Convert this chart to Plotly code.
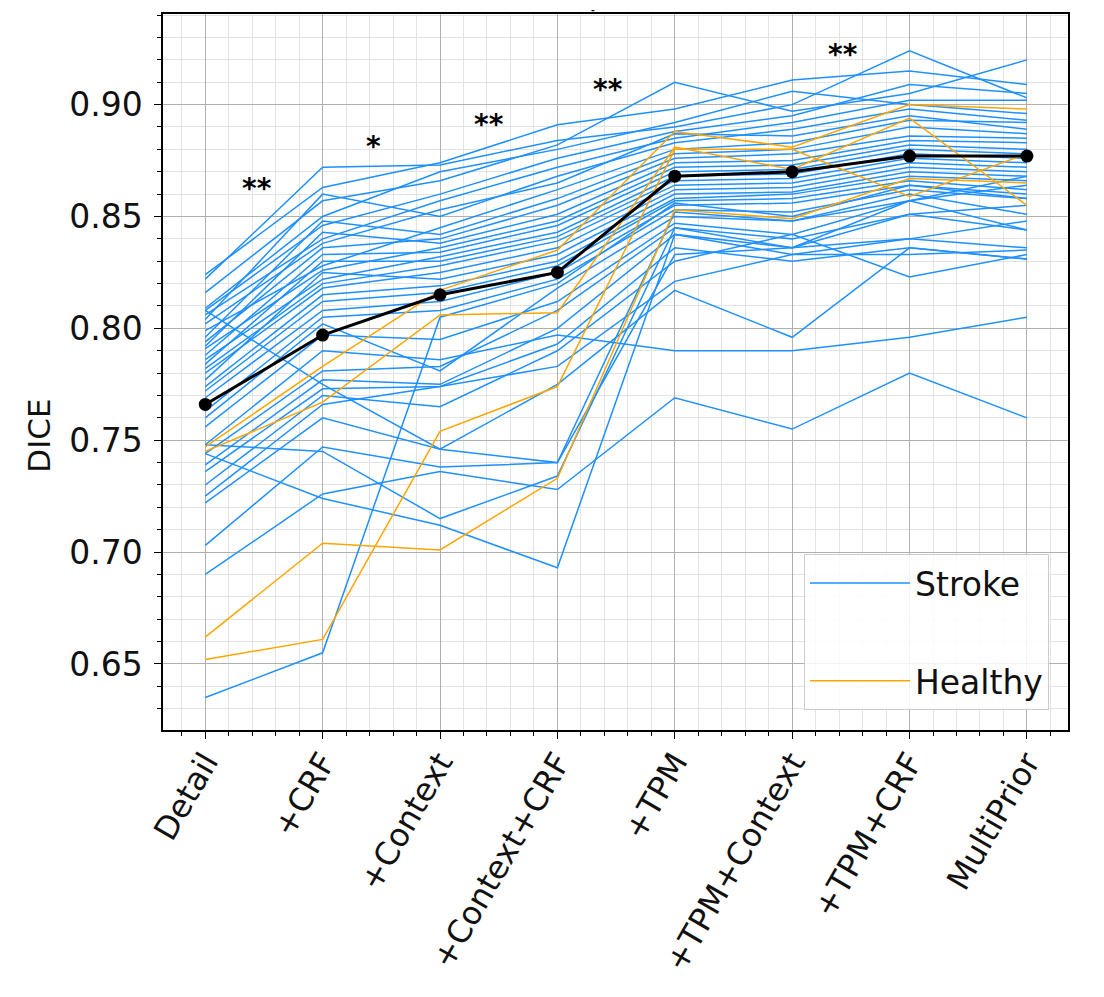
import plotly.graph_objects as go

categories = ["Detail", "+CRF", "+Context", "+Context+CRF", "+TPM", "+TPM+Context", "+TPM+CRF", "MultiPrior"]

stroke = [
    [0.824, 0.863, 0.874, 0.891, 0.898, 0.911, 0.915, 0.909],
    [0.822, 0.872, 0.873, 0.884, 0.890, 0.900, 0.924, 0.903],
    [0.816, 0.857, 0.866, 0.882, 0.910, 0.897, 0.905, 0.920],
    [0.809, 0.850, 0.870, 0.880, 0.892, 0.906, 0.900, 0.896],
    [0.808, 0.846, 0.860, 0.876, 0.888, 0.895, 0.909, 0.905],
    [0.806, 0.840, 0.857, 0.872, 0.885, 0.892, 0.902, 0.902],
    [0.804, 0.860, 0.850, 0.868, 0.883, 0.889, 0.898, 0.893],
    [0.802, 0.838, 0.853, 0.865, 0.887, 0.886, 0.895, 0.889],
    [0.799, 0.828, 0.845, 0.862, 0.880, 0.883, 0.893, 0.892],
    [0.796, 0.848, 0.842, 0.858, 0.878, 0.880, 0.890, 0.887],
    [0.794, 0.836, 0.840, 0.855, 0.876, 0.878, 0.886, 0.885],
    [0.792, 0.843, 0.838, 0.851, 0.874, 0.875, 0.884, 0.883],
    [0.791, 0.826, 0.836, 0.848, 0.872, 0.873, 0.882, 0.880],
    [0.788, 0.833, 0.834, 0.846, 0.870, 0.871, 0.880, 0.878],
    [0.786, 0.822, 0.832, 0.843, 0.868, 0.869, 0.878, 0.876],
    [0.784, 0.830, 0.830, 0.841, 0.866, 0.867, 0.876, 0.874],
    [0.782, 0.820, 0.828, 0.839, 0.864, 0.865, 0.874, 0.872],
    [0.780, 0.818, 0.825, 0.836, 0.862, 0.863, 0.872, 0.870],
    [0.777, 0.825, 0.822, 0.833, 0.860, 0.861, 0.870, 0.868],
    [0.774, 0.815, 0.819, 0.830, 0.858, 0.860, 0.868, 0.866],
    [0.772, 0.812, 0.816, 0.828, 0.857, 0.858, 0.866, 0.862],
    [0.769, 0.808, 0.812, 0.825, 0.855, 0.856, 0.864, 0.860],
    [0.763, 0.805, 0.808, 0.822, 0.853, 0.852, 0.862, 0.858],
    [0.760, 0.802, 0.781, 0.818, 0.850, 0.848, 0.860, 0.851],
    [0.756, 0.797, 0.795, 0.812, 0.847, 0.842, 0.857, 0.844],
    [0.748, 0.790, 0.786, 0.797, 0.790, 0.790, 0.796, 0.805],
    [0.744, 0.781, 0.783, 0.808, 0.845, 0.836, 0.851, 0.844],
    [0.739, 0.777, 0.775, 0.800, 0.842, 0.833, 0.840, 0.836],
    [0.736, 0.773, 0.774, 0.793, 0.836, 0.830, 0.836, 0.831],
    [0.730, 0.770, 0.765, 0.790, 0.830, 0.842, 0.823, 0.833],
    [0.725, 0.766, 0.774, 0.783, 0.821, 0.833, 0.833, 0.835],
    [0.722, 0.760, 0.746, 0.775, 0.817, 0.796, 0.836, 0.831],
    [0.703, 0.747, 0.738, 0.740, 0.852, 0.848, 0.857, 0.868],
    [0.690, 0.726, 0.736, 0.728, 0.769, 0.755, 0.780, 0.760],
    [0.635, 0.655, 0.805, 0.820, 0.856, 0.850, 0.864, 0.858],
    [0.748, 0.745, 0.715, 0.734, 0.845, 0.840, 0.851, 0.855],
    [0.744, 0.724, 0.712, 0.693, 0.842, 0.836, 0.840, 0.848],
    [0.808, 0.775, 0.746, 0.740, 0.833, 0.836, 0.857, 0.864],
]

healthy = [
    [0.747, 0.783, 0.817, 0.835, 0.888, 0.881, 0.900, 0.898],
    [0.745, 0.767, 0.806, 0.807, 0.881, 0.871, 0.894, 0.855],
    [0.662, 0.704, 0.701, 0.733, 0.853, 0.849, 0.867, 0.865],
    [0.652, 0.661, 0.754, 0.774, 0.880, 0.880, 0.859, 0.878],
]

mean_dice = [0.766, 0.797, 0.815, 0.825, 0.868, 0.870, 0.877, 0.877]

star_labels = ["**", "*", "**", "**", "**"]
star_x = [0.44, 1.43, 2.42, 3.43, 5.43]
star_y = [0.8625, 0.8815, 0.8913, 0.9069, 0.9225]

xs = list(range(len(categories)))
BLUE = "#1E90FF"
ORANGE = "#FFA500"
FONT = "DejaVu Sans"

fig = go.Figure()
for i, s in enumerate(stroke):
    fig.add_trace(go.Scatter(x=xs, y=s, mode="lines", line=dict(color=BLUE, width=1.5),
                             name="Stroke", legendgroup="stroke", showlegend=(i == 0),
                             hoverinfo="skip"))
for i, h in enumerate(healthy):
    fig.add_trace(go.Scatter(x=xs, y=h, mode="lines", line=dict(color=ORANGE, width=1.5),
                             name="Healthy", legendgroup="healthy", showlegend=(i == 0),
                             hoverinfo="skip"))
fig.add_trace(go.Scatter(x=xs, y=mean_dice, mode="lines+markers",
                         line=dict(color="black", width=3),
                         marker=dict(color="black", size=13),
                         name="Mean", showlegend=False))

for lab, sx, sy in zip(star_labels, star_x, star_y):
    fig.add_annotation(x=sx, y=sy, text="<b>" + lab + "</b>", showarrow=False,
                       font=dict(family=FONT, size=28, color="black"),
                       xanchor="center", yanchor="middle")

fig.add_annotation(xref="paper", yref="paper", x=0.475, y=1.0 + 4 / 718, text="<b>-</b>",
                   showarrow=False, font=dict(family=FONT, size=9, color="black"),
                   xanchor="center", yanchor="middle")

fig.add_annotation(xref="paper", yref="paper", x=-0.137, y=0.411, text="DICE",
                   showarrow=False, textangle=-90,
                   font=dict(family=FONT, size=31, color="#111111"),
                   xanchor="center", yanchor="middle")

axis_common = dict(showline=True, linecolor="black", linewidth=1.5, mirror=True,
                   ticks="outside", ticklen=7, tickwidth=1.2, tickcolor="black",
                   showgrid=True, gridcolor="#b0b0b0", gridwidth=1.2, zeroline=False)

fig.update_xaxes(**axis_common, range=[-0.36, 7.35], tickmode="array", tickvals=xs,
                 ticktext=categories, tickangle=-60, ticklabelstandoff=-8,
                 tickfont=dict(family=FONT, size=32, color="#111111"),
                 minor=dict(dtick=0.2, tick0=0, ticks="outside", ticklen=4, tickcolor="black",
                            showgrid=True, gridcolor="#e3e3e3", gridwidth=1))
fig.update_yaxes(**axis_common, range=[0.6205, 0.9405], dtick=0.05, tick0=0.65,
                 tickformat=".2f", ticklabelstandoff=5,
                 tickfont=dict(family=FONT, size=33, color="#111111"),
                 minor=dict(dtick=0.01, tick0=0.65, ticks="outside", ticklen=4, tickcolor="black",
                            showgrid=True, gridcolor="#e3e3e3", gridwidth=1))

fig.update_layout(
    width=1104, height=997,
    margin=dict(l=163, r=36, t=12, b=267),
    paper_bgcolor="white", plot_bgcolor="white",
    font=dict(family=FONT),
    legend=dict(x=0.979, y=0.028, xanchor="right", yanchor="bottom",
                bgcolor="rgba(255,255,255,0.85)", bordercolor="#cccccc", borderwidth=1,
                font=dict(family=FONT, size=33, color="#111111"),
                tracegroupgap=52, itemwidth=100),
)

fig.write_html("out.html")
